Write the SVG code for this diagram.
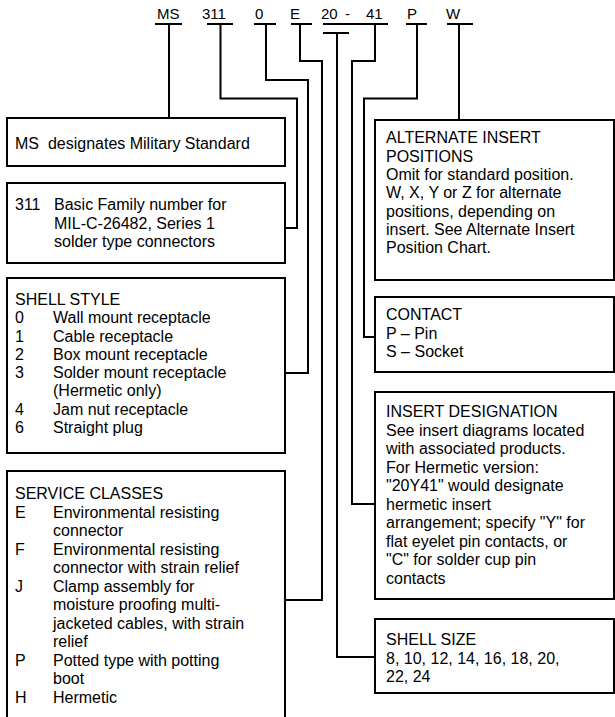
<svg xmlns="http://www.w3.org/2000/svg" width="615" height="717" viewBox="0 0 615 717">
<style>
text{font-family:"Liberation Sans",Arial,sans-serif;font-size:16px;fill:#000}
.code{font-size:15px}
.box{fill:#fff;stroke:#000;stroke-width:2}
.ln{fill:none;stroke:#000;stroke-width:2}
</style>
<rect width="615" height="717" fill="#fff"/>
<g id="codes">
<text class="code" x="157" y="19">MS</text>
<text class="code" x="202" y="19">311</text>
<text class="code" x="255" y="19">0</text>
<text class="code" x="290" y="19">E</text>
<text class="code" x="321" y="19">20</text>
<text class="code" x="345" y="19">-</text>
<text class="code" x="366" y="19">41</text>
<text class="code" x="407" y="19">P</text>
<text class="code" x="446" y="19">W</text>
</g>
<g id="connectors">
<path class="ln" d="M155 24H182M169 24V118"/>
<path class="ln" d="M207 24H233M220.5 24V98.5H297V228H285"/>
<path class="ln" d="M254 24H276M266 24V80H308V373H285"/>
<path class="ln" d="M291 24H312M300 24V61H322V600H285"/>
<path class="ln" d="M323 24H388M323 33H349M337 33V657H375"/>
<path class="ln" d="M375 24V61H352V504H375"/>
<path class="ln" d="M406 24H427M417 24V98.5H364V337H375"/>
<path class="ln" d="M447 24H473M459 24V120"/>
</g>
<g id="ms">
<rect class="box" x="7" y="118" width="278" height="48"/>
<text x="15" y="149" style="white-space:pre">MS  designates Military Standard</text>
</g>
<g id="family">
<rect class="box" x="7" y="183" width="278" height="80"/>
<text x="15" y="210">311</text>
<text x="54" y="210">Basic Family number for</text>
<text x="54" y="228.5">MIL-C-26482, Series 1</text>
<text x="54" y="247">solder type connectors</text>
</g>
<g id="shellstyle">
<rect class="box" x="7" y="278" width="278" height="175"/>
<text x="15" y="305">SHELL STYLE</text>
<text x="15" y="323">0</text><text x="53" y="323">Wall mount receptacle</text>
<text x="15" y="341.5">1</text><text x="53" y="341.5">Cable receptacle</text>
<text x="15" y="360">2</text><text x="53" y="360">Box mount receptacle</text>
<text x="15" y="378">3</text><text x="53" y="378">Solder mount receptacle</text>
<text x="53" y="396">(Hermetic only)</text>
<text x="15" y="414.5">4</text><text x="53" y="414.5">Jam nut receptacle</text>
<text x="15" y="433">6</text><text x="53" y="433">Straight plug</text>
</g>
<g id="service">
<rect class="box" x="7" y="471" width="278" height="260"/>
<text x="15" y="499">SERVICE CLASSES</text>
<text x="15" y="517.5">E</text><text x="53" y="517.5">Environmental resisting</text>
<text x="53" y="536">connector</text>
<text x="15" y="554.5">F</text><text x="53" y="554.5">Environmental resisting</text>
<text x="53" y="573">connector with strain relief</text>
<text x="15" y="591.5">J</text><text x="53" y="591.5">Clamp assembly for</text>
<text x="53" y="610">moisture proofing multi-</text>
<text x="53" y="628.5">jacketed cables, with strain</text>
<text x="53" y="647">relief</text>
<text x="15" y="665.5">P</text><text x="53" y="665.5">Potted type with potting</text>
<text x="53" y="684">boot</text>
<text x="15" y="702.5">H</text><text x="53" y="702.5">Hermetic</text>
</g>
<g id="alternate">
<rect class="box" x="375" y="120" width="239" height="160"/>
<text x="386" y="143">ALTERNATE INSERT</text>
<text x="386" y="161.5">POSITIONS</text>
<text x="386" y="180">Omit for standard position.</text>
<text x="386" y="198">W, X, Y or Z for alternate</text>
<text x="386" y="216.5">positions, depending on</text>
<text x="386" y="235">insert. See Alternate Insert</text>
<text x="386" y="253">Position Chart.</text>
</g>
<g id="contact">
<rect class="box" x="375" y="297" width="239" height="75"/>
<text x="386" y="320">CONTACT</text>
<text x="386" y="338.5">P – Pin</text>
<text x="386" y="357">S – Socket</text>
</g>
<g id="insert">
<rect class="box" x="375" y="392" width="239" height="207"/>
<text x="386" y="417">INSERT DESIGNATION</text>
<text x="386" y="435.5">See insert diagrams located</text>
<text x="386" y="454">with associated products.</text>
<text x="386" y="472.5">For Hermetic version:</text>
<text x="386" y="491">"20Y41" would designate</text>
<text x="386" y="509.5">hermetic insert</text>
<text x="386" y="528">arrangement; specify "Y" for</text>
<text x="386" y="546.5">flat eyelet pin contacts, or</text>
<text x="386" y="565">"C" for solder cup pin</text>
<text x="386" y="583.5">contacts</text>
</g>
<g id="shellsize">
<rect class="box" x="375" y="619" width="239" height="74"/>
<text x="386" y="645">SHELL SIZE</text>
<text x="386" y="663.5">8, 10, 12, 14, 16, 18, 20,</text>
<text x="386" y="682">22, 24</text>
</g>
</svg>
